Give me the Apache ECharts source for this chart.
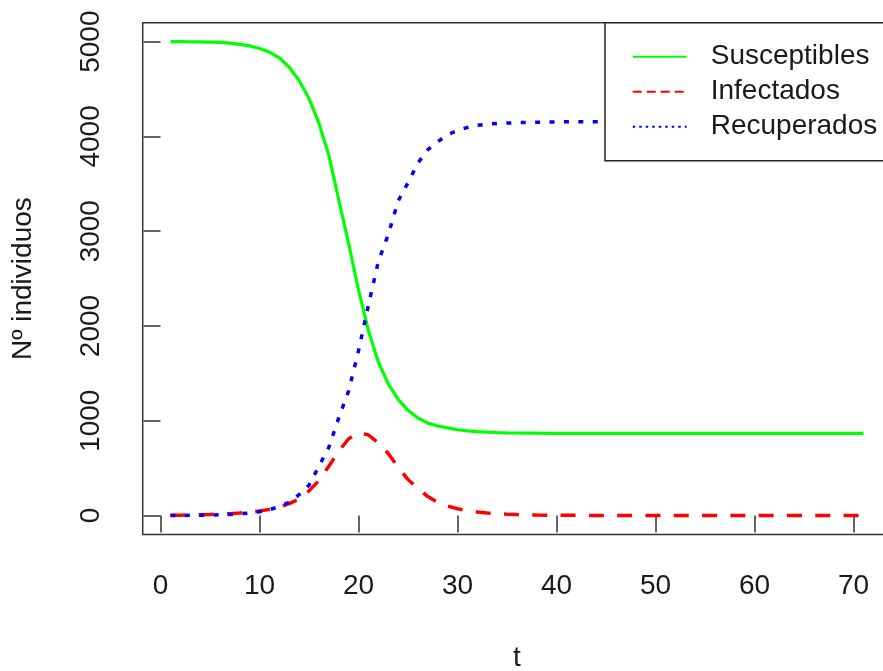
<!DOCTYPE html>
<html>
<head>
<meta charset="utf-8">
<script src="https://cdn.jsdelivr.net/npm/echarts@6/dist/echarts.min.js"></script>
<style>
html,body{margin:0;padding:0;background:#fff;}
#chart{width:883px;height:671px;}
</style>
</head>
<body>
<div id="chart"></div>
<script>
// time steps
const t = [1,2,3,4,5,6,7,8,9,10,11,12,13,14,15,16,17,18,19,20,21,22,23,24,25,26,27,28,29,30,31,32,33,34,35,36,37,38,39,40,41,42,43,44,45,46,47,48,49,50,51,52,53,54,55,56,57,58,59,60,61,62,63,64,65,66,67,68,69,70,71];
// Susceptibles
const susceptibles = [5000,5000,4999,4998,4996,4992,4985,4972,4955,4928,4890,4830,4730,4590,4400,4140,3800,3330,2870,2380,1950,1620,1390,1225,1110,1030,975,945,925,905,893,886,880,876,873,871,870,869,868,867,867,867,867,867,867,867,867,867,867,866,866,866,866,866,866,866,866,866,866,866,866,866,866,866,866,866,866,866,866,866,866];
// Infectados
const infectados = [3,4,6,8,11,15,20,27,36,48,65,90,125,175,260,370,520,680,810,875,850,765,655,510,380,285,200,140,100,72,52,37,27,20,14,10,7,5,4,3,2,2,1,1,1,0,0,0,0,0,0,0,0,0,0,0,0,0,0,0,0,0,0,0,0,0,0,0,0,0,0];
// Recuperados
const recuperados = [0,1,2,3,5,8,12,18,27,40,62,95,140,220,320,520,720,1030,1315,1740,2220,2680,2965,3319,3513,3720,3860,3945,4020,4062,4095,4118,4130,4137,4141,4145,4148,4150,4152,4153,4154,4154,4154,4154,4154,4154,4154,4154,4154,4154,4154,4154,4154,4154,4154,4154,4154,4154,4154,4154,4154,4154,4154,4154,4154,4154,4154,4154,4154,4154,4154];
// tick labels
const xTicks = [0,10,20,30,40,50,60,70];
const yTicks = [0,1000,2000,3000,4000,5000];
const seriesNames = ['Susceptibles','Infectados','Recuperados'];

const FONT = '"Liberation Sans", Arial, sans-serif';
const INK = '#1a1a1a';
const pairs = arr => t.map((x,i)=>[x,arr[i]]);

const chart = echarts.init(document.getElementById('chart'), null, {renderer:'canvas'});
chart.setOption({
  animation:false,
  backgroundColor:'#fff',
  grid:{left:142.7, top:22.7, right:-8.2, bottom:136.5, containLabel:false, outerBoundsMode:'none',
        show:true, borderColor:'#333', borderWidth:1.5, backgroundColor:'transparent'},
  xAxis:{
    type:'value', min:-1.8, max:73.8,
    name:'t', nameLocation:'middle', nameGap:110,
    nameTextStyle:{fontSize:28, fontFamily:FONT, color:INK},
    axisLine:{show:false},
    axisTick:{show:true, length:17, inside:false, customValues:xTicks, lineStyle:{color:'#333', width:1.5}},
    axisLabel:{customValues:xTicks, fontSize:28, fontFamily:FONT, color:INK, margin:38,
               formatter:v=>String(v)},
    splitLine:{show:false}
  },
  yAxis:{
    type:'value', min:-200, max:5200,
    name:'Nº individuos', nameLocation:'middle', nameGap:105, nameRotate:90,
    nameTextStyle:{fontSize:28, fontFamily:FONT, color:INK},
    axisLine:{show:false},
    axisTick:{show:true, length:17, inside:false, customValues:yTicks, lineStyle:{color:'#333', width:1.5}},
    axisLabel:{customValues:yTicks, rotate:90, fontSize:28, fontFamily:FONT, color:INK, margin:37,
               formatter:v=>String(v)},
    splitLine:{show:false}
  },
  legend:{
    orient:'vertical', left:631.7, top:41.7, padding:0, itemGap:5, z:20,
    itemWidth:54, itemHeight:20,
    textStyle:{fontSize:28, lineHeight:30, fontFamily:FONT, color:INK, padding:[0,0,0,19]},
    data:[
      {name:seriesNames[0], itemStyle:{opacity:0}, lineStyle:{width:2, type:'solid'}},
      {name:seriesNames[1], itemStyle:{opacity:0}, lineStyle:{width:2, type:[9,5]}},
      {name:seriesNames[2], itemStyle:{opacity:0}, lineStyle:{width:2, type:[2.5,4]}}
    ]
  },
  graphic:{z:10, elements:[{type:'rect', z:10, shape:{x:605, y:22.7, width:320, height:138},
    style:{fill:'#ffffff', stroke:'#222', lineWidth:1.5}}]},
  series:[
    {name:seriesNames[0], type:'line', data:pairs(susceptibles), symbol:'none', smooth:false,
     lineStyle:{color:'#00ff00', width:3.2, type:'solid'}, itemStyle:{color:'#00ff00'}},
    {name:seriesNames[1], type:'line', data:pairs(infectados), symbol:'none', smooth:false,
     lineStyle:{color:'#ff0000', width:3.5, type:[15,13.3]}, itemStyle:{color:'#ff0000'}},
    {name:seriesNames[2], type:'line', data:pairs(recuperados), symbol:'none', smooth:false,
     lineStyle:{color:'#0000ff', width:3.5, type:[5,9.4]}, itemStyle:{color:'#0000ff'}}
  ]
});
</script>
</body>
</html>
